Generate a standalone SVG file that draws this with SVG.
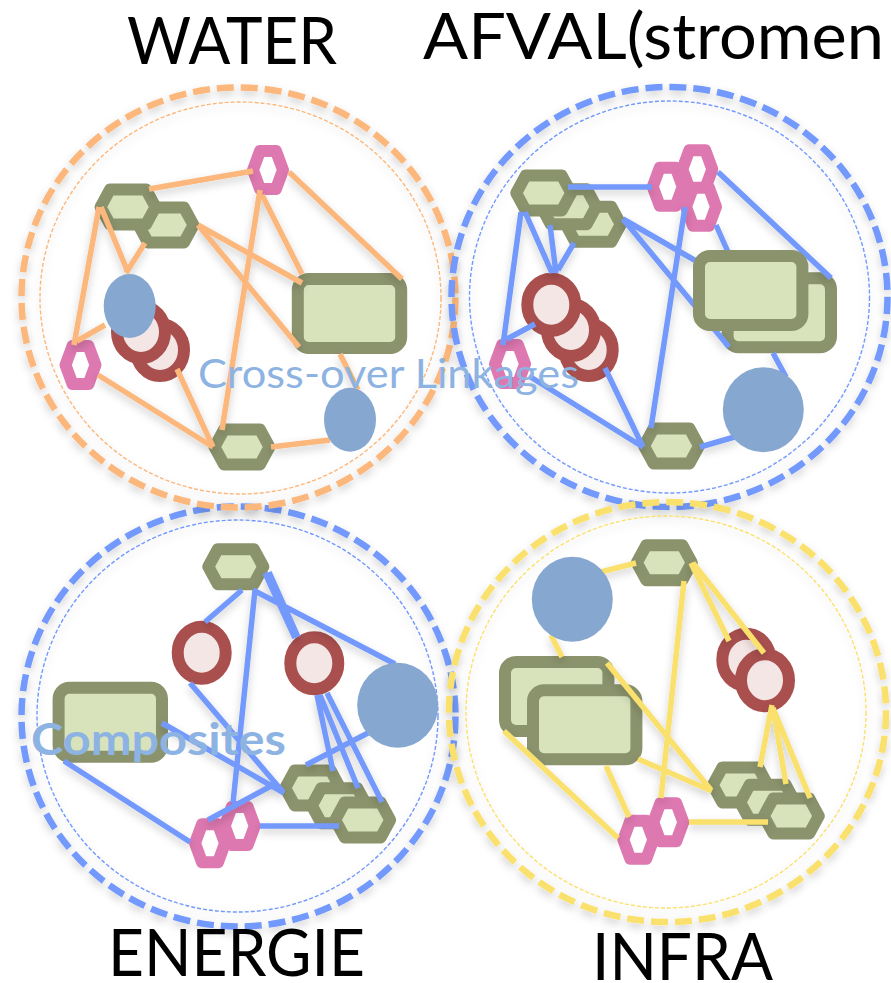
<svg xmlns="http://www.w3.org/2000/svg" width="891" height="983" viewBox="0 0 891 983">
<style>
.title{font-family:"Lato","Liberation Sans",sans-serif;font-size:65px;fill:#000}
.over{font-family:"Lato","Liberation Sans",sans-serif;fill:#8db3e2}
.outer{fill:none;stroke-width:6.5;stroke-dasharray:17 7}
.inner{fill:none;stroke-width:1.4;stroke-dasharray:4 2}
.o{stroke:#fbb77c}.b{stroke:#7299fb}.y{stroke:#fae06c}
.links{fill:none;stroke-width:5.5}
.gh{fill:#d8e3bc;stroke:#8a936c;stroke-width:12;stroke-linejoin:round}
.ph{fill:#fff;stroke:#dd78b0;stroke-width:12;stroke-linejoin:round}
.re{fill:#d8e3bc;stroke:#8a936c;stroke-width:12}
.rc{fill:#f4e6e5;stroke:#a9504f;stroke-width:12}
.bn{fill:#86a7d0}
.sh{filter:url(#shadow)}
</style>
<defs>
<filter id="shadow" x="-10%" y="-10%" width="120%" height="125%"><feDropShadow dx="0" dy="4" stdDeviation="4" flood-color="#000" flood-opacity="0.2"/></filter>
<polygon id="hg" class="gh" points="-27.5,0 -18,-17.5 18,-17.5 27.5,0 18,17.5 -18,17.5"/>
<polygon id="hp" class="ph" points="-15,0 -8,-19 8,-19 15,0 8,19 -8,19"/>
<rect id="rr" class="re" x="-51.7" y="-34.5" width="103.4" height="69" rx="11"/>
<ellipse id="cr" class="rc" rx="24" ry="26"/>
<ellipse id="bs" class="bn" rx="26" ry="32"/>
<ellipse id="bb" class="bn" rx="40.5" ry="42.5"/>
</defs>

<g id="rings">
<g id="ring-energie" class="sh"><ellipse class="outer b" cx="238.5" cy="716.5" rx="217" ry="210"/><ellipse class="inner b" cx="237.5" cy="716" rx="200.5" ry="196"/></g>
<g id="ring-water" class="sh"><ellipse class="outer o" cx="238.5" cy="297.5" rx="217" ry="210"/><ellipse class="inner o" cx="240.5" cy="298" rx="200.5" ry="196"/></g>
<g id="ring-afval" class="sh"><ellipse class="outer b" cx="669.5" cy="297" rx="218" ry="210"/><ellipse class="inner b" cx="669.5" cy="297" rx="200" ry="196"/></g>
<g id="ring-infra" class="sh"><ellipse class="outer y" cx="667.5" cy="712" rx="218.5" ry="210"/><ellipse class="inner y" cx="666" cy="712" rx="200" ry="196"/></g>
</g>

<!-- WATER -->
<g id="w-c2"><use href="#cr" x="160" y="350"/></g>
<g id="w-c1"><use href="#cr" x="141" y="332"/></g>
<g id="w-g2"><use href="#hg" x="166" y="225"/></g>
<g id="w-g1"><use href="#hg" x="128" y="207"/></g>
<g id="w-g3"><use href="#hg" x="242" y="447"/></g>
<g id="w-p1"><use href="#hp" x="268" y="170"/></g>
<g id="w-p2"><use href="#hp" x="80.5" y="365"/></g>
<g id="w-r1"><use href="#rr" x="349.5" y="313.5"/></g>

<!-- AFVAL back -->
<g id="a-c3"><use href="#cr" x="588.7" y="350"/></g>
<g id="a-c2"><use href="#cr" x="571" y="330"/></g>
<g id="a-c1"><use href="#cr" x="551.3" y="304.7"/></g>
<g id="a-g3"><use href="#hg" x="593.3" y="224.3"/></g>
<g id="a-g2"><use href="#hg" x="568.7" y="206.7"/></g>
<g id="a-g1"><use href="#hg" x="543.7" y="193"/></g>
<g id="a-g4"><use href="#hg" x="671.5" y="446"/></g>
<g id="a-p1"><use href="#hp" x="667.7" y="186.7"/></g>
<g id="a-p2"><use href="#hp" x="697.3" y="169.3"/></g>
<g id="a-p3"><use href="#hp" x="701" y="206.7"/></g>
<g id="a-p4"><use href="#hp" x="510" y="364"/></g>
<g id="a-r2"><use href="#rr" x="779.3" y="312.8"/></g>

<!-- ENERGIE -->
<g id="e-g1"><use href="#hg" x="235.8" y="566.7"/></g>
<g id="e-g2"><use href="#hg" x="312.7" y="788"/></g>
<g id="e-g3"><use href="#hg" x="339.3" y="805.7"/></g>
<g id="e-g4"><use href="#hg" x="362.7" y="820"/></g>
<g id="e-p2"><use href="#hp" x="239.7" y="826"/></g>
<g id="e-p1"><use href="#hp" x="210" y="843.3"/></g>
<g id="e-c1"><use href="#cr" x="201.7" y="652.7"/></g>
<g id="e-c2"><use href="#cr" x="314.3" y="663.3"/></g>
<g id="e-r1"><use href="#rr" x="110.3" y="722.2"/></g>

<!-- INFRA -->
<g id="i-g1"><use href="#hg" x="664.3" y="562.7"/></g>
<g id="i-g2"><use href="#hg" x="740.3" y="785"/></g>
<g id="i-g3"><use href="#hg" x="767.7" y="802.3"/></g>
<g id="i-g4"><use href="#hg" x="791.3" y="816"/></g>
<g id="i-p1"><use href="#hp" x="638.3" y="839.7"/></g>
<g id="i-p2"><use href="#hp" x="668.3" y="822.3"/></g>
<g id="i-c1"><use href="#cr" x="746.3" y="659.7"/></g>
<g id="i-c2"><use href="#cr" x="765" y="680.3"/></g>
<g id="i-r1"><use href="#rr" x="556.7" y="696.5"/></g>
<g id="i-r2"><use href="#rr" x="584.7" y="724.8"/></g>

<g id="connectors" class="sh">
<path class="links o" d="M149 189L253 171M99 207L74 345M101 207L127 270M145 243L126 273M77 341L105 325M98 375L213 447M177 369L213 447M260 190L222 430M262 195L302 274M289 172L402 279M198 225L302 283M198 225L299 347M340 354L358 390M271 447L330 440"/>
<path class="links b" d="M568 187L652 187M521 212L503 345M525 212L552 273M550 225L556 273M574 243L558 270M507 339L535 324M529 376L643 447M605 368L643 447M685 207L651 428M716 225L728 252M718 172L831 278M623 219L696 261M623 219L729 347M773 353L786 377M700 447L738 436"/>
<path class="links b" d="M242 590L205 622M255 590L233 803M265 573L295 638M269 572L298 637M253 590L395 664M190 683L283 792M162 723L284 793M64 761L190 842M317 695L333 771M320 695L358 788M327 693L382 802M208 820L273 785M306 765L368 733M260 826L339 826"/>
<path class="links y" d="M597 573L636 563M691 563L729 641M693 563L764 653M684 581L661 798M551 635L562 657M607 663L711 790M638 759L712 791M504 731L618 838M606 766L629 817M689 822L768 822M772 705L760 767M773 708L786 784M773 708L810 798"/>
</g>

<g id="w-b1"><use href="#bs" x="129.7" y="306"/></g>
<g id="w-b2"><use href="#bs" x="350" y="419.8"/></g>
<g id="a-r1"><use href="#rr" x="750.7" y="290.5"/></g>
<g id="a-b1"><use href="#bb" x="763.3" y="409.7"/></g>
<g id="e-b1"><use href="#bb" x="397.7" y="705.3"/></g>
<g id="i-b1"><use href="#bb" x="572.3" y="599.3"/></g>

<g id="labels">
<text class="title" x="127" y="64" textLength="210" lengthAdjust="spacingAndGlyphs">WATER</text>
<text class="title" x="423" y="59" font-size="63" style="font-size:63px" textLength="461" lengthAdjust="spacingAndGlyphs">AFVAL(stromen</text>
<text class="title" x="108" y="976" textLength="257" lengthAdjust="spacingAndGlyphs">ENERGIE</text>
<text class="title" x="592" y="980" textLength="181" lengthAdjust="spacingAndGlyphs">INFRA</text>
<text class="over" x="198" y="388" font-size="41" textLength="381" lengthAdjust="spacingAndGlyphs">Cross-over Linkages</text>
<text class="over" x="31" y="755" font-size="44" font-weight="700" textLength="255" lengthAdjust="spacingAndGlyphs">Composites</text>
</g>
</svg>
